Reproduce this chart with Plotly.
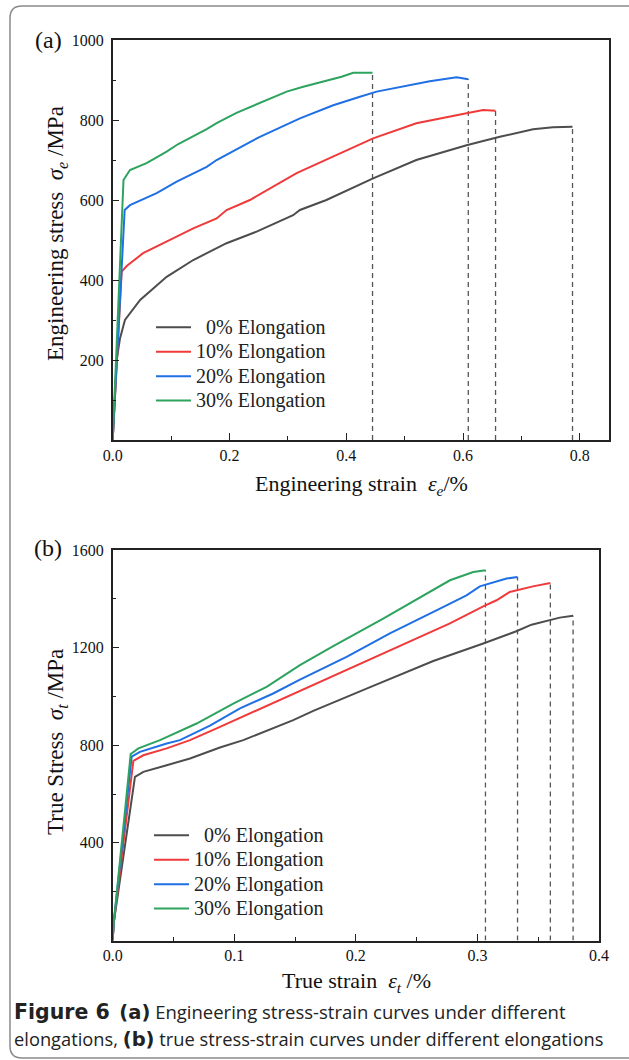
import plotly.graph_objects as go

W, H = 629, 1060

# ---------------- data: engineering stress-strain (panel a) ----------------
eng_strain_0 = [0.0, 0.004, 0.0068, 0.0125, 0.021, 0.047, 0.0924, 0.138, 0.195, 0.2465, 0.309, 0.3207,
                0.366, 0.446, 0.520, 0.606, 0.663, 0.720, 0.754, 0.7875]
eng_stress_0 = [0, 100, 200, 254, 300, 350, 408, 450, 492, 521, 562, 575,
                600, 654, 700, 737, 758, 777, 782, 783]

eng_strain_10 = [0.0, 0.0154, 0.024, 0.052, 0.092, 0.138, 0.178, 0.195, 0.235, 0.315, 0.446, 0.520,
                 0.606, 0.6345, 0.6557]
eng_stress_10 = [0, 421, 435, 467, 496, 529, 554, 575, 600, 667, 754, 792,
                 817, 825, 823]

eng_strain_20 = [0.0, 0.0205, 0.0296, 0.0753, 0.1096, 0.161, 0.178, 0.252, 0.3207, 0.3777, 0.4234,
                 0.452, 0.543, 0.589, 0.609]
eng_stress_20 = [0, 575, 587, 617, 646, 683, 700, 758, 804, 837, 858,
                 871, 897, 907, 902]

eng_strain_30 = [0.0, 0.0185, 0.0296, 0.058, 0.0924, 0.1123, 0.161, 0.178, 0.212, 0.2637, 0.298,
                 0.3263, 0.3606, 0.392, 0.412, 0.445]
eng_stress_30 = [0, 650, 675, 692, 721, 740, 777, 792, 818, 850, 871,
                 883, 896, 908, 918, 918]

# ---------------- data: true stress-strain (panel b) ----------------
true_strain_0 = [0.0, 0.0008, 0.0183, 0.0252, 0.0444, 0.0636, 0.0882, 0.1074, 0.1485, 0.165, 0.2088,
                 0.2637, 0.3048, 0.332, 0.3445, 0.3677, 0.3787]
true_stress_0 = [0, 70, 670, 691, 718, 746, 791, 821, 903, 941, 1032,
                 1145, 1217, 1267, 1294, 1323, 1331]

true_strain_10 = [0.0, 0.0008, 0.0170, 0.0252, 0.0444, 0.0636, 0.0855, 0.1129, 0.1403, 0.1677, 0.1951,
                  0.2362, 0.2774, 0.3048, 0.3157, 0.3266, 0.3457, 0.3600]
true_stress_10 = [0, 70, 736, 759, 787, 821, 869, 930, 992, 1055, 1114,
                  1206, 1299, 1369, 1394, 1428, 1451, 1465]

true_strain_20 = [0.0, 0.0008, 0.0156, 0.0224, 0.0444, 0.0553, 0.080, 0.1047, 0.132, 0.154, 0.1924,
                  0.228, 0.2692, 0.291, 0.302, 0.324, 0.333]
true_stress_20 = [0, 70, 753, 773, 807, 821, 880, 951, 1012, 1069, 1162,
                  1258, 1360, 1414, 1451, 1483, 1489]

true_strain_30 = [0.0, 0.0008, 0.0148, 0.0211, 0.0389, 0.069, 0.0992, 0.1266, 0.154, 0.1814, 0.2225,
                  0.2637, 0.2774, 0.2966, 0.3066]
true_stress_30 = [0, 70, 764, 787, 821, 889, 971, 1039, 1128, 1206, 1319,
                  1435, 1476, 1510, 1517]

labels = ["\u00a0\u00a00% Elongation", "10% Elongation", "20% Elongation", "30% Elongation"]
colors = ["#4d4d4d", "#f03a3a", "#1f6fe5", "#2ea35f"]

eng_x_ticks = [0.0, 0.2, 0.4, 0.6, 0.8]
eng_x_ticktext = ["0.0", "0.2", "0.4", "0.6", "0.8"]
eng_x_minor = [0.1, 0.3, 0.5, 0.7]
eng_y_ticks = [200, 400, 600, 800, 1000]
eng_y_minor = [100, 300, 500, 700, 900]

true_x_ticks = [0.0, 0.1, 0.2, 0.3, 0.4]
true_x_ticktext = ["0.0", "0.1", "0.2", "0.3", "0.4"]
true_x_minor = [0.05, 0.15, 0.25, 0.35]
true_y_ticks = [400, 800, 1200, 1600]
true_y_minor = [200, 600, 1000, 1400]


def px(x):
    return x / W


def py(y):
    return 1 - y / H


SERIF = "Liberation Serif"
fig = go.Figure()

eng = [(eng_strain_0, eng_stress_0), (eng_strain_10, eng_stress_10),
       (eng_strain_20, eng_stress_20), (eng_strain_30, eng_stress_30)]
tru = [(true_strain_0, true_stress_0), (true_strain_10, true_stress_10),
       (true_strain_20, true_stress_20), (true_strain_30, true_stress_30)]

DASH = dict(color="#555555", width=1.3, dash="5px,4px")
# dashed fracture lines
for (xs, ys) in eng:
    fig.add_trace(go.Scatter(x=[xs[-1], xs[-1]], y=[0, ys[-1]], mode="lines", line=DASH,
                             showlegend=False, hoverinfo="skip", xaxis="x", yaxis="y"))
for (xs, ys) in tru:
    fig.add_trace(go.Scatter(x=[xs[-1], xs[-1]], y=[0, ys[-1]], mode="lines", line=DASH,
                             showlegend=False, hoverinfo="skip", xaxis="x2", yaxis="y2"))


def leg_name(s):
    return f'<span style="font-size:20px">{s}</span>'


for i, (xs, ys) in enumerate(eng):
    fig.add_trace(go.Scatter(x=xs, y=ys, mode="lines", name=leg_name(labels[i]),
                             line=dict(color=colors[i], width=2),
                             xaxis="x", yaxis="y", legend="legend"))
for i, (xs, ys) in enumerate(tru):
    fig.add_trace(go.Scatter(x=xs, y=ys, mode="lines", name=leg_name(labels[i]),
                             line=dict(color=colors[i], width=2),
                             xaxis="x2", yaxis="y2", legend="legend2"))

axis_common = dict(showline=True, mirror=True, linecolor="#222222", linewidth=1.5,
                   ticks="inside", ticklen=7, tickwidth=1.3, tickcolor="#222222",
                   showgrid=False, zeroline=False,
                   tickfont=dict(family=SERIF, size=16, color="#111111"))

fig.update_layout(
    width=W, height=H,
    margin=dict(l=0, r=0, t=0, b=0),
    paper_bgcolor="white", plot_bgcolor="white",
    xaxis=dict(domain=[px(112.7), px(609)], range=[0, 0.85], anchor="y",
               tickvals=eng_x_ticks, ticktext=eng_x_ticktext,
               minor=dict(tickvals=eng_x_minor, ticks="inside", ticklen=4, tickcolor="#222222"),
               automargin=False, **axis_common),
    yaxis=dict(domain=[py(440), py(40)], range=[0, 1000], anchor="x",
               tickvals=eng_y_ticks,
               minor=dict(tickvals=eng_y_minor, ticks="inside", ticklen=4, tickcolor="#222222"),
               automargin=False, ticklabelstandoff=4, **axis_common),
    xaxis2=dict(domain=[px(112.7), px(599)], range=[0, 0.4], anchor="y2",
                tickvals=true_x_ticks, ticktext=true_x_ticktext,
                minor=dict(tickvals=true_x_minor, ticks="inside", ticklen=4, tickcolor="#222222"),
                automargin=False, **axis_common),
    yaxis2=dict(domain=[py(940.5), py(550)], range=[0, 1600], anchor="x2",
                tickvals=true_y_ticks,
                minor=dict(tickvals=true_y_minor, ticks="inside", ticklen=4, tickcolor="#222222"),
                automargin=False, ticklabelstandoff=4, **axis_common),
    legend=dict(x=px(151), y=py(310), xanchor="left", yanchor="top",
                bgcolor="rgba(0,0,0,0)", font=dict(family=SERIF, size=16.5, color="#222222"),
                tracegroupgap=0, itemwidth=35),
    legend2=dict(x=px(149), y=py(818), xanchor="left", yanchor="top",
                 bgcolor="rgba(0,0,0,0)", font=dict(family=SERIF, size=16.5, color="#222222"),
                 tracegroupgap=0, itemwidth=35),
    showlegend=True,
)

ann = []
def add_text(text, x, y, size, family=SERIF, angle=0, xanchor="center", color="#111111"):
    ann.append(dict(text=text, x=px(x), y=py(y), xref="paper", yref="paper",
                    xanchor=xanchor, yanchor="middle", showarrow=False, textangle=angle,
                    font=dict(family=family, size=size, color=color)))

BOLD = '<span style="font-family:\'DejaVu Sans\';font-size:{}px"><b>{}</b></span>'
add_text("(a)", 48, 40, 24)
add_text("(b)", 48, 548, 24)
add_text("Engineering stress\u00a0\u00a0<i>σ<sub>e</sub></i> /MPa", 57, 234, 23, angle=-90)
add_text("True Stress\u00a0\u00a0<i>σ<sub>t</sub></i> /MPa", 57, 742, 23, angle=-90)
add_text("Engineering strain\u00a0\u00a0<i>ε<sub>e</sub></i>/%", 361, 485, 22)
add_text("True strain\u00a0\u00a0<i>ε<sub>t</sub></i> /%", 356, 982, 22)
add_text(BOLD.format(20.5, "Figure 6") + "\u00a0\u00a0" + BOLD.format(19.5, "(a)")
         + " Engineering stress-strain curves under different",
         12, 1011, 18.5, family="Open Sans", xanchor="left", color="#222222")
add_text("elongations, " + BOLD.format(19.5, "(b)") + " true stress-strain curves under different elongations",
         12, 1038, 18.3, family="Open Sans", xanchor="left", color="#222222")
fig.update_layout(annotations=ann)

# rounded border around the figure
r = 12
x0, y0, y1, xr = 10, 6, 1058, 640
path = (f"M {px(xr)},{py(y0)} L {px(x0 + r)},{py(y0)} Q {px(x0)},{py(y0)} {px(x0)},{py(y0 + r)} "
        f"L {px(x0)},{py(y1 - r)} Q {px(x0)},{py(y1)} {px(x0 + r)},{py(y1)} L {px(xr)},{py(y1)}")
fig.add_shape(type="path", path=path, xref="paper", yref="paper",
              line=dict(color="#8a8a8a", width=1.5))

fig.write_html("out.html", config={"displayModeBar": False},
               post_script="document.body.style.margin='0';document.body.style.overflow='hidden';")
